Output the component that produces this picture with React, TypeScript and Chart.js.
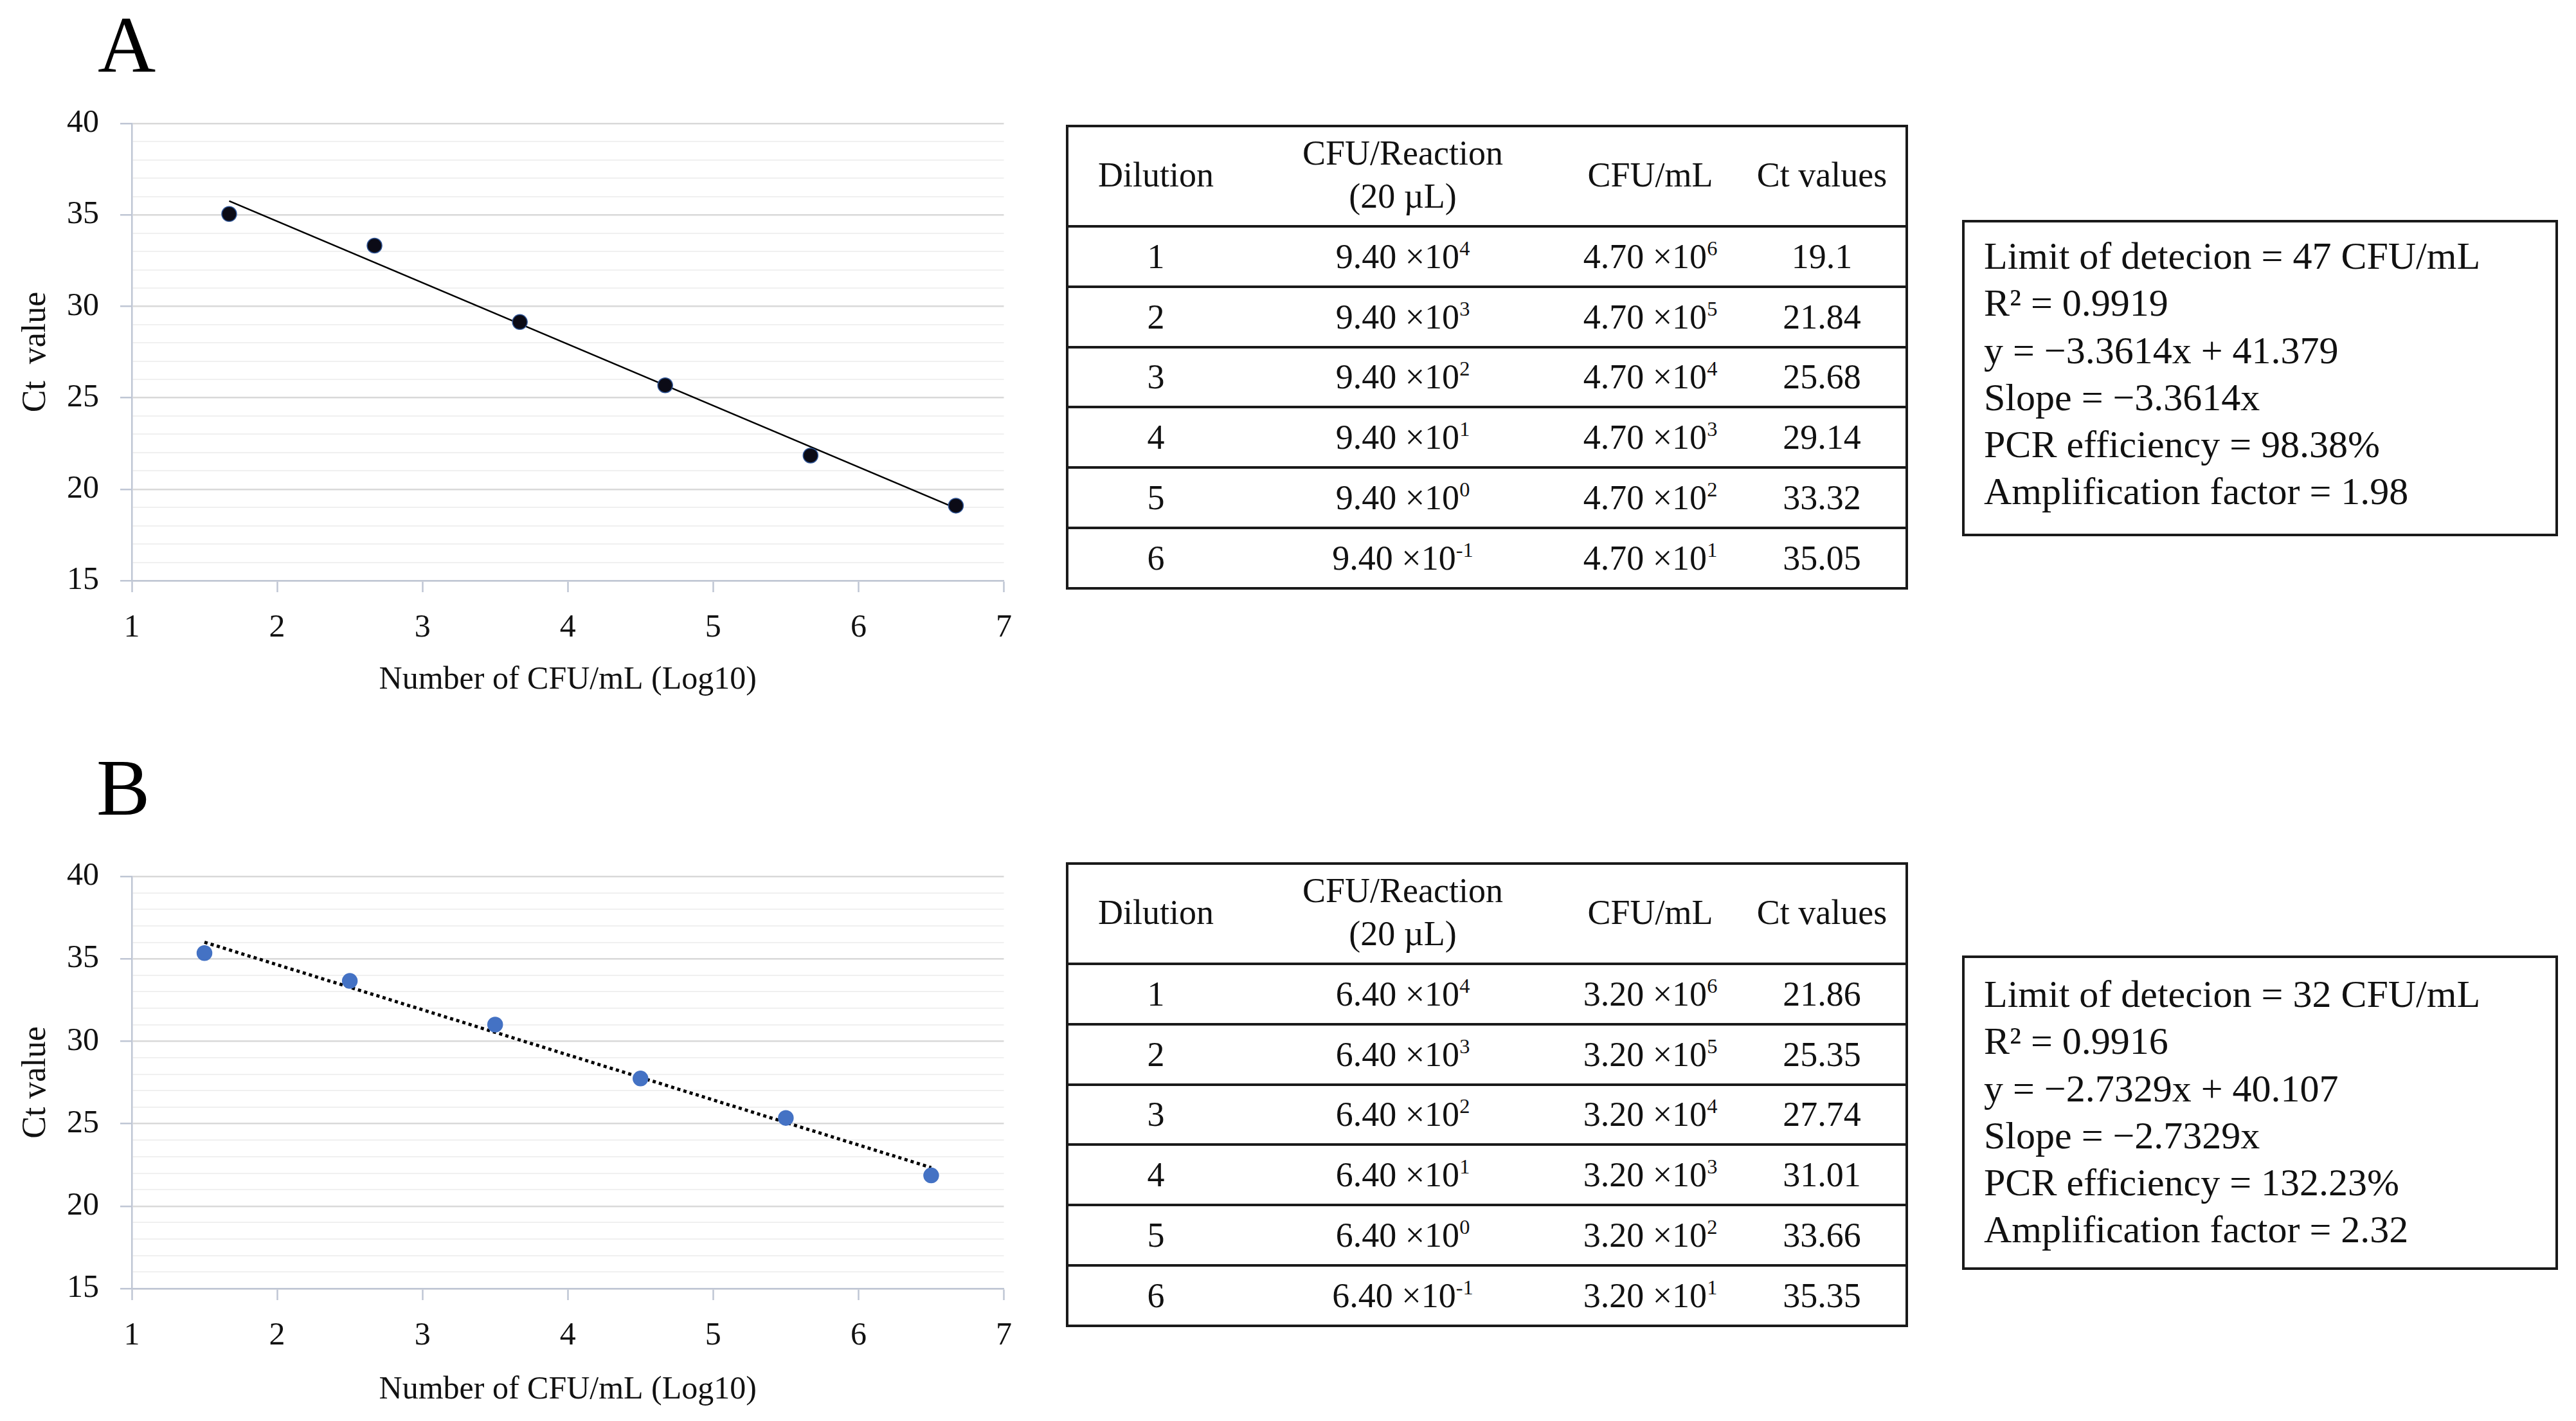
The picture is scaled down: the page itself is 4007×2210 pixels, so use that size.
import React, { useEffect, useRef } from 'react';
import { Chart, registerables } from 'chart.js';

Chart.register(...registerables);

const FONT = '"Liberation Serif", "Times New Roman", serif';

// ---- Panel A data ----
const logA = [1.67, 2.67, 3.67, 4.67, 5.67, 6.67];
const ctA = [35.05, 33.32, 29.14, 25.68, 21.84, 19.1];
const trendXA = [1.67, 6.67];
const trendYA = [35.76, 18.96];

// ---- Panel B data ----
const logB = [1.5, 2.5, 3.5, 4.5, 5.5, 6.5];
const ctB = [35.35, 33.66, 31.01, 27.74, 25.35, 21.86];
const trendXB = [1.5, 6.5];
const trendYB = [36.01, 22.34];

// ---- Axis settings ----
const xMin = 1;
const xMax = 7;
const yMin = 15;
const yMax = 40;
const yMajorStep = 5;

// ---- Table data ----
const dilutions = ['1', '2', '3', '4', '5', '6'];
const reactionExp = ['4', '3', '2', '1', '0', '-1'];
const mlExp = ['6', '5', '4', '3', '2', '1'];
const reactionMantA = '9.40';
const mlMantA = '4.70';
const ctTextA = ['19.1', '21.84', '25.68', '29.14', '33.32', '35.05'];
const reactionMantB = '6.40';
const mlMantB = '3.20';
const ctTextB = ['21.86', '25.35', '27.74', '31.01', '33.66', '35.35'];

// ---- Stats text ----
const statsA = [
  'Limit of detecion = 47 CFU/mL',
  'R² = 0.9919',
  'y = −3.3614x + 41.379',
  'Slope = −3.3614x',
  'PCR efficiency = 98.38%',
  'Amplification factor = 1.98',
];
const statsB = [
  'Limit of detecion = 32 CFU/mL',
  'R² = 0.9916',
  'y = −2.7329x + 40.107',
  'Slope = −2.7329x',
  'PCR efficiency = 132.23%',
  'Amplification factor = 2.32',
];

type CurveProps = {
  top: number;
  height: number;
  padTop: number;
  xAxisH: number;
  titlePad: number;
  xs: number[];
  ys: number[];
  tx: number[];
  ty: number[];
  pointColor: string;
  pointBorder: string;
  dashed: boolean;
  yTitle: string;
};

function CurveChart(p: CurveProps) {
  const ref = useRef<HTMLCanvasElement>(null);
  useEffect(() => {
    if (!ref.current) return;
    const chart = new Chart(ref.current, {
      type: 'scatter',
      data: {
        datasets: [
          {
            data: p.xs.map((x, i) => ({ x, y: p.ys[i] })),
            backgroundColor: p.pointColor,
            borderColor: p.pointBorder,
            borderWidth: 1.5,
            pointRadius: 11.5,
            showLine: false,
          },
          {
            data: p.tx.map((x, i) => ({ x, y: p.ty[i] })),
            showLine: true,
            borderColor: '#000',
            borderWidth: p.dashed ? 5 : 2.5,
            borderDash: p.dashed ? [5, 5] : [],
            pointRadius: 0,
            fill: false,
          },
        ],
      },
      options: {
        animation: false,
        responsive: false,
        maintainAspectRatio: false,
        layout: { padding: { left: 0, right: 26, top: p.padTop, bottom: 0 } },
        plugins: { legend: { display: false }, tooltip: { enabled: false } },
        scales: {
          x: {
            type: 'linear',
            min: xMin,
            max: xMax,
            ticks: {
              stepSize: 1,
              autoSkip: false,
              font: { family: FONT, size: 50 },
              color: '#111',
              padding: 26,
            },
            grid: {
              drawOnChartArea: false,
              drawTicks: true,
              tickLength: 18,
              tickColor: '#BFC6D4',
              tickWidth: 2.5,
            },
            border: { color: '#BFC6D4', width: 2.5 },
            title: {
              display: true,
              text: 'Number of CFU/mL (Log10)',
              font: { family: FONT, size: 50 },
              color: '#111',
              padding: { top: 0, bottom: p.titlePad },
            },
            afterFit: (s: any) => {
              s.height = p.xAxisH;
            },
          },
          y: {
            type: 'linear',
            min: yMin,
            max: yMax,
            ticks: {
              stepSize: 1,
              autoSkip: false,
              font: { family: FONT, size: 50 },
              color: '#111',
              padding: 33,
              callback: (v: any) => (Number(v) % yMajorStep === 0 ? String(v) : ''),
            },
            grid: {
              color: (ctx: any) =>
                ctx.tick && ctx.tick.value % yMajorStep === 0 ? '#D9D9D9' : '#F0F0F0',
              lineWidth: (ctx: any) =>
                ctx.tick && ctx.tick.value % yMajorStep === 0 ? 2.5 : 2,
              drawTicks: true,
              tickLength: 18,
              tickColor: (ctx: any) =>
                ctx.tick && ctx.tick.value % yMajorStep === 0 ? '#BFC6D4' : 'rgba(0,0,0,0)',
            },
            border: { color: '#BFC6D4', width: 2.5 },
            title: {
              display: true,
              text: p.yTitle,
              font: { family: FONT, size: 52 },
              color: '#111',
              padding: { top: 25, bottom: 0 },
            },
            afterFit: (s: any) => {
              s.width = 205;
            },
          },
        },
      },
    } as any);
    return () => chart.destroy();
  }, []);
  return (
    <canvas
      ref={ref}
      width={1600}
      height={p.height}
      style={{ position: 'absolute', left: 0, top: p.top, width: 1600, height: p.height }}
    />
  );
}

const colW = [272, 496, 274, 260];

function Sci({ m, e }: { m: string; e: string }) {
  return (
    <span>
      {m} ×10
      <sup style={{ fontSize: '0.6em', verticalAlign: '0.62em', lineHeight: 0 }}>{e}</sup>
    </span>
  );
}

function DataTable({ top, mantR, mantM, cts }: { top: number; mantR: string; mantM: string; cts: string[] }) {
  const cell = (w: number, content: React.ReactNode, key?: any) => (
    <div
      key={key}
      style={{ width: w, display: 'flex', alignItems: 'center', justifyContent: 'center', textAlign: 'center' }}
    >
      {content}
    </div>
  );
  return (
    <div
      style={{
        position: 'absolute',
        left: 1658,
        top,
        width: 1310,
        height: 723,
        border: '4px solid #1a1a1a',
        boxSizing: 'border-box',
        fontFamily: FONT,
        fontSize: 54,
        color: '#111',
        background: '#fff',
      }}
    >
      <div style={{ display: 'flex', height: 152, lineHeight: '67px', paddingBottom: 4, boxSizing: 'border-box' }}>
        {cell(colW[0], 'Dilution')}
        {cell(
          colW[1],
          <span>
            CFU/Reaction
            <br />
            (20 µL)
          </span>
        )}
        {cell(colW[2], 'CFU/mL')}
        {cell(colW[3], 'Ct values')}
      </div>
      {dilutions.map((d, i) => (
        <div
          key={i}
          style={{
            display: 'flex',
            height: 93.8,
            boxSizing: 'border-box',
            borderTop: '4px solid #1a1a1a',
            lineHeight: '60px',
          }}
        >
          {cell(colW[0], d)}
          {cell(colW[1], <Sci m={mantR} e={reactionExp[i]} />)}
          {cell(colW[2], <Sci m={mantM} e={mlExp[i]} />)}
          {cell(colW[3], cts[i])}
        </div>
      ))}
    </div>
  );
}

function StatsBox({ top, height, textTop, lines }: { top: number; height: number; textTop: number; lines: string[] }) {
  return (
    <>
      <div
        style={{
          position: 'absolute',
          left: 3052,
          top,
          width: 927,
          height,
          border: '4px solid #1a1a1a',
          boxSizing: 'border-box',
          background: '#fff',
        }}
      />
      <div
        style={{
          position: 'absolute',
          left: 3086,
          top: textTop,
          fontFamily: FONT,
          fontSize: 60,
          lineHeight: '73.3px',
          color: '#111',
          whiteSpace: 'pre',
        }}
      >
        {lines.map((l, i) => (
          <div key={i}>{l}</div>
        ))}
      </div>
    </>
  );
}

export default function App() {
  return (
    <div
      style={{
        position: 'absolute',
        left: 0,
        top: 0,
        width: 4007,
        height: 2210,
        background: '#fff',
        overflow: 'hidden',
      }}
    >
      <div
        style={{
          position: 'absolute',
          left: 152,
          top: 8,
          fontFamily: FONT,
          fontSize: 125,
          lineHeight: '125px',
          color: '#000',
        }}
      >
        A
      </div>
      <div
        style={{
          position: 'absolute',
          left: 150,
          top: 1163,
          fontFamily: FONT,
          fontSize: 125,
          lineHeight: '125px',
          color: '#000',
        }}
      >
        B
      </div>

      <CurveChart
        top={129}
        height={971}
        padTop={63}
        xAxisH={197}
        titlePad={12}
        xs={logA}
        ys={ctA}
        tx={trendXA}
        ty={trendYA}
        pointColor="#0B0B16"
        pointBorder="#2F5597"
        dashed={false}
        yTitle="Ct  value"
      />
      <CurveChart
        top={1300}
        height={910}
        padTop={63}
        xAxisH={206}
        titlePad={18}
        xs={logB}
        ys={ctB}
        tx={trendXB}
        ty={trendYB}
        pointColor="#4472C4"
        pointBorder="#4472C4"
        dashed={true}
        yTitle="Ct value"
      />

      <DataTable top={194} mantR={reactionMantA} mantM={mlMantA} cts={ctTextA} />
      <DataTable top={1341} mantR={reactionMantB} mantM={mlMantB} cts={ctTextB} />

      <StatsBox top={342} height={492} textTop={362} lines={statsA} />
      <StatsBox top={1486} height={489} textTop={1510} lines={statsB} />
    </div>
  );
}
